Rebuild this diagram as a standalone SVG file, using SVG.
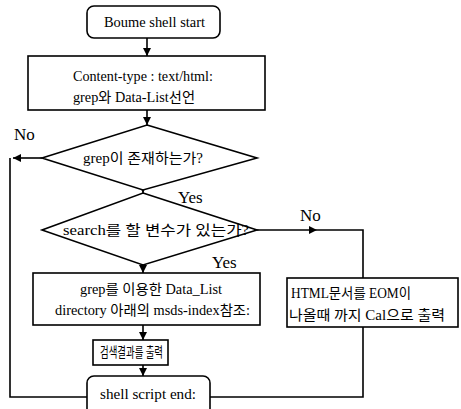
<svg xmlns="http://www.w3.org/2000/svg" width="461" height="409" viewBox="0 0 461 409">
<style>
.s{fill:#fff;stroke:#000;stroke-width:1.6}
.c{fill:none;stroke:#000;stroke-width:1.6}
.t{font-family:'Liberation Serif','Times New Roman','DejaVu Serif','Noto Sans CJK KR',serif;font-size:14px;fill:#000}
.m{text-anchor:middle}
.l{font-family:'Liberation Serif','Times New Roman','DejaVu Serif',serif;font-size:17px;fill:#000}
</style>
<defs>
<marker id="a" viewBox="0 0 10 10" refX="10" refY="5" markerWidth="8" markerHeight="8" markerUnits="userSpaceOnUse" orient="auto">
<path d="M0,0 L10,5 L0,10 z" fill="#000"/>
</marker>
</defs>
<rect width="461" height="409" fill="#fff"/>
<g id="connectors">
<line class="c" x1="147" y1="38" x2="147" y2="56" marker-end="url(#a)"/>
<line class="c" x1="147" y1="110" x2="147" y2="125" marker-end="url(#a)"/>
<path class="c" d="M143,182 L143,193" marker-end="url(#a)"/>
<line class="c" x1="143" y1="265" x2="143" y2="273" marker-end="url(#a)"/>
<line class="c" x1="143" y1="325" x2="143" y2="340" marker-end="url(#a)"/>
<line class="c" x1="143" y1="365" x2="143" y2="376" marker-end="url(#a)"/>
<path class="c" d="M42,158 L13,158" marker-end="url(#a)"/>
<path class="c" d="M10,158 L10,397 L87,397"/>
<path class="c" d="M257,230 L317,230" marker-end="url(#a)"/>
<path class="c" d="M317,230 L363,230 L363,278"/>
<path class="c" d="M363,327 L363,397 L210,397"/>
</g>
<g id="start">
<rect class="s" x="87" y="6" width="133" height="32" rx="7"/>
<text class="t" x="104" y="27" textLength="101" lengthAdjust="spacingAndGlyphs">Boume shell start</text>
</g>
<g id="declare">
<rect class="s" x="28" y="56" width="237" height="54"/>
<text class="t" x="73" y="81" textLength="140" lengthAdjust="spacingAndGlyphs">Content-type : text/html:</text>
<text class="t" x="73" y="102" textLength="122" lengthAdjust="spacingAndGlyphs">grep와 Data-List선언</text>
</g>
<g id="grepExists">
<polygon class="s" points="147,125 257,158 143,190 42,158"/>
<text class="t" x="83" y="163" textLength="120" lengthAdjust="spacingAndGlyphs">grep이 존재하는가?</text>
</g>
<g id="searchVar">
<polygon class="s" points="143,193 257,230 143,265 42,230"/>
<text class="t" x="63" y="235" textLength="186" lengthAdjust="spacingAndGlyphs">search를 할 변수가 있는가?</text>
</g>
<g id="grepList">
<rect class="s" x="33" y="273" width="227" height="52"/>
<text class="t" x="80" y="294" textLength="142" lengthAdjust="spacingAndGlyphs">grep를 이용한 Data_List</text>
<text class="t" x="55" y="315" textLength="195" lengthAdjust="spacingAndGlyphs">directory 아래의 msds-index참조:</text>
</g>
<g id="printResult">
<rect class="s" x="93" y="340" width="75" height="25"/>
<text class="t" x="100" y="357" textLength="63" lengthAdjust="spacingAndGlyphs">검색결과를 출력</text>
</g>
<g id="end">
<rect class="s" x="87" y="376" width="123" height="40" rx="7"/>
<text class="t" x="100" y="399" textLength="96" lengthAdjust="spacingAndGlyphs">shell script end:</text>
</g>
<g id="html">
<rect class="s" x="287" y="278" width="171" height="49"/>
<text class="t" x="291" y="298" textLength="120" lengthAdjust="spacingAndGlyphs">HTML문서를 EOM이</text>
<text class="t" x="289" y="320" textLength="156" lengthAdjust="spacingAndGlyphs">나올때 까지 Cal으로 출력</text>
</g>
<g id="labels">
<text class="l" x="14" y="140">No</text>
<text class="l" x="178" y="203">Yes</text>
<text class="l" x="212" y="268">Yes</text>
<text class="l" x="300" y="221">No</text>
</g>
</svg>
